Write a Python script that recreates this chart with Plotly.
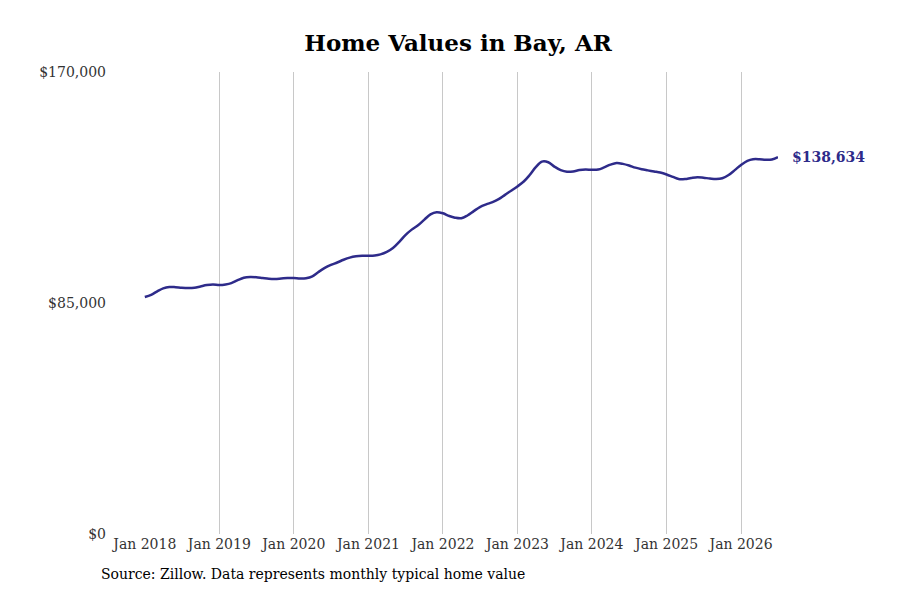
import pandas as pd
import plotly.graph_objects as go

# Monthly typical home value, Jan 2018 - Jul 2026 (thousands of dollars)
dates = pd.date_range("2018-01-01", "2026-07-01", freq="MS")
values_k = [
    87.2, 88.0, 89.2, 90.4, 90.9, 90.8, 90.6, 90.5, 90.6, 91.1, 91.6, 91.8,
    91.6, 91.8, 92.3, 93.4, 94.3, 94.6, 94.5, 94.2, 93.9, 93.8, 94.0, 94.2,
    94.2, 94.0, 94.1, 94.8, 96.4, 97.9, 99.0, 99.9, 100.9, 101.7, 102.2, 102.4,
    102.4, 102.5, 102.9, 103.8, 105.2, 107.5, 110.0, 112.0, 113.6, 115.6, 117.6, 118.4,
    118.0, 117.0, 116.4, 116.2, 117.2, 118.8, 120.3, 121.3, 122.1, 123.2, 124.8, 126.3,
    127.9, 129.7, 132.0, 135.0, 137.0, 136.8, 135.2, 133.9, 133.3, 133.4, 133.9, 134.1,
    134.0, 134.1, 134.9, 135.9, 136.5, 136.2, 135.6, 134.8, 134.2, 133.8, 133.4, 133.0,
    132.3, 131.4, 130.6, 130.6, 131.0, 131.3, 131.1, 130.8, 130.6, 130.9, 132.1, 133.9,
    135.8, 137.3, 137.9, 137.9, 137.7, 137.8, 138.634,
]
values = [v * 1000 for v in values_k]

tick_vals = pd.date_range("2018-01-01", "2026-01-01", freq="YS")
tick_text = [f"Jan {d.year}" for d in tick_vals]

line_color = "#2e2b8a"
font = "DejaVu Serif, serif"

fig = go.Figure()
fig.add_trace(go.Scatter(x=dates, y=values, mode="lines",
                         line=dict(color=line_color, width=2.5, shape="spline"),
                         hoverinfo="skip"))

fig.add_annotation(x=dates[-1], y=values[-1], text=f"<b>${values[-1]:,.0f}</b>",
                   showarrow=False, xanchor="left", xshift=12,
                   font=dict(family=font, size=14, color=line_color))

fig.add_annotation(xref="paper", yref="paper", x=0, y=0, xshift=-45, yshift=-50,
                   xanchor="left", yanchor="bottom", showarrow=False,
                   text="Source: Zillow. Data represents monthly typical home value",
                   font=dict(family=font, size=14, color="#000"))

fig.update_layout(
    width=900, height=600,
    margin=dict(l=136, r=130, t=64, b=74),
    paper_bgcolor="white", plot_bgcolor="white",
    showlegend=False,
    title=dict(text="<b>Home Values in Bay, AR</b>", x=0.5, xanchor="center",
               y=0.942, yanchor="middle",
               font=dict(family=font, size=23, color="#000")),
    font=dict(family=font, size=14, color="#333"),
    xaxis=dict(range=[pd.Timestamp("2017-12-28"), dates[-1]], tickvals=tick_vals,
               ticktext=tick_text, showgrid=True, gridcolor="#c8c8c8", gridwidth=1,
               zeroline=False, showline=False, ticks="", fixedrange=True),
    yaxis=dict(range=[0, 170000], tickvals=[0, 85000, 170000],
               ticktext=["$0", "$85,000", "$170,000"], showgrid=False,
               zeroline=False, showline=False, ticks="", ticklabelstandoff=37),
)

fig.write_html("out.html")
